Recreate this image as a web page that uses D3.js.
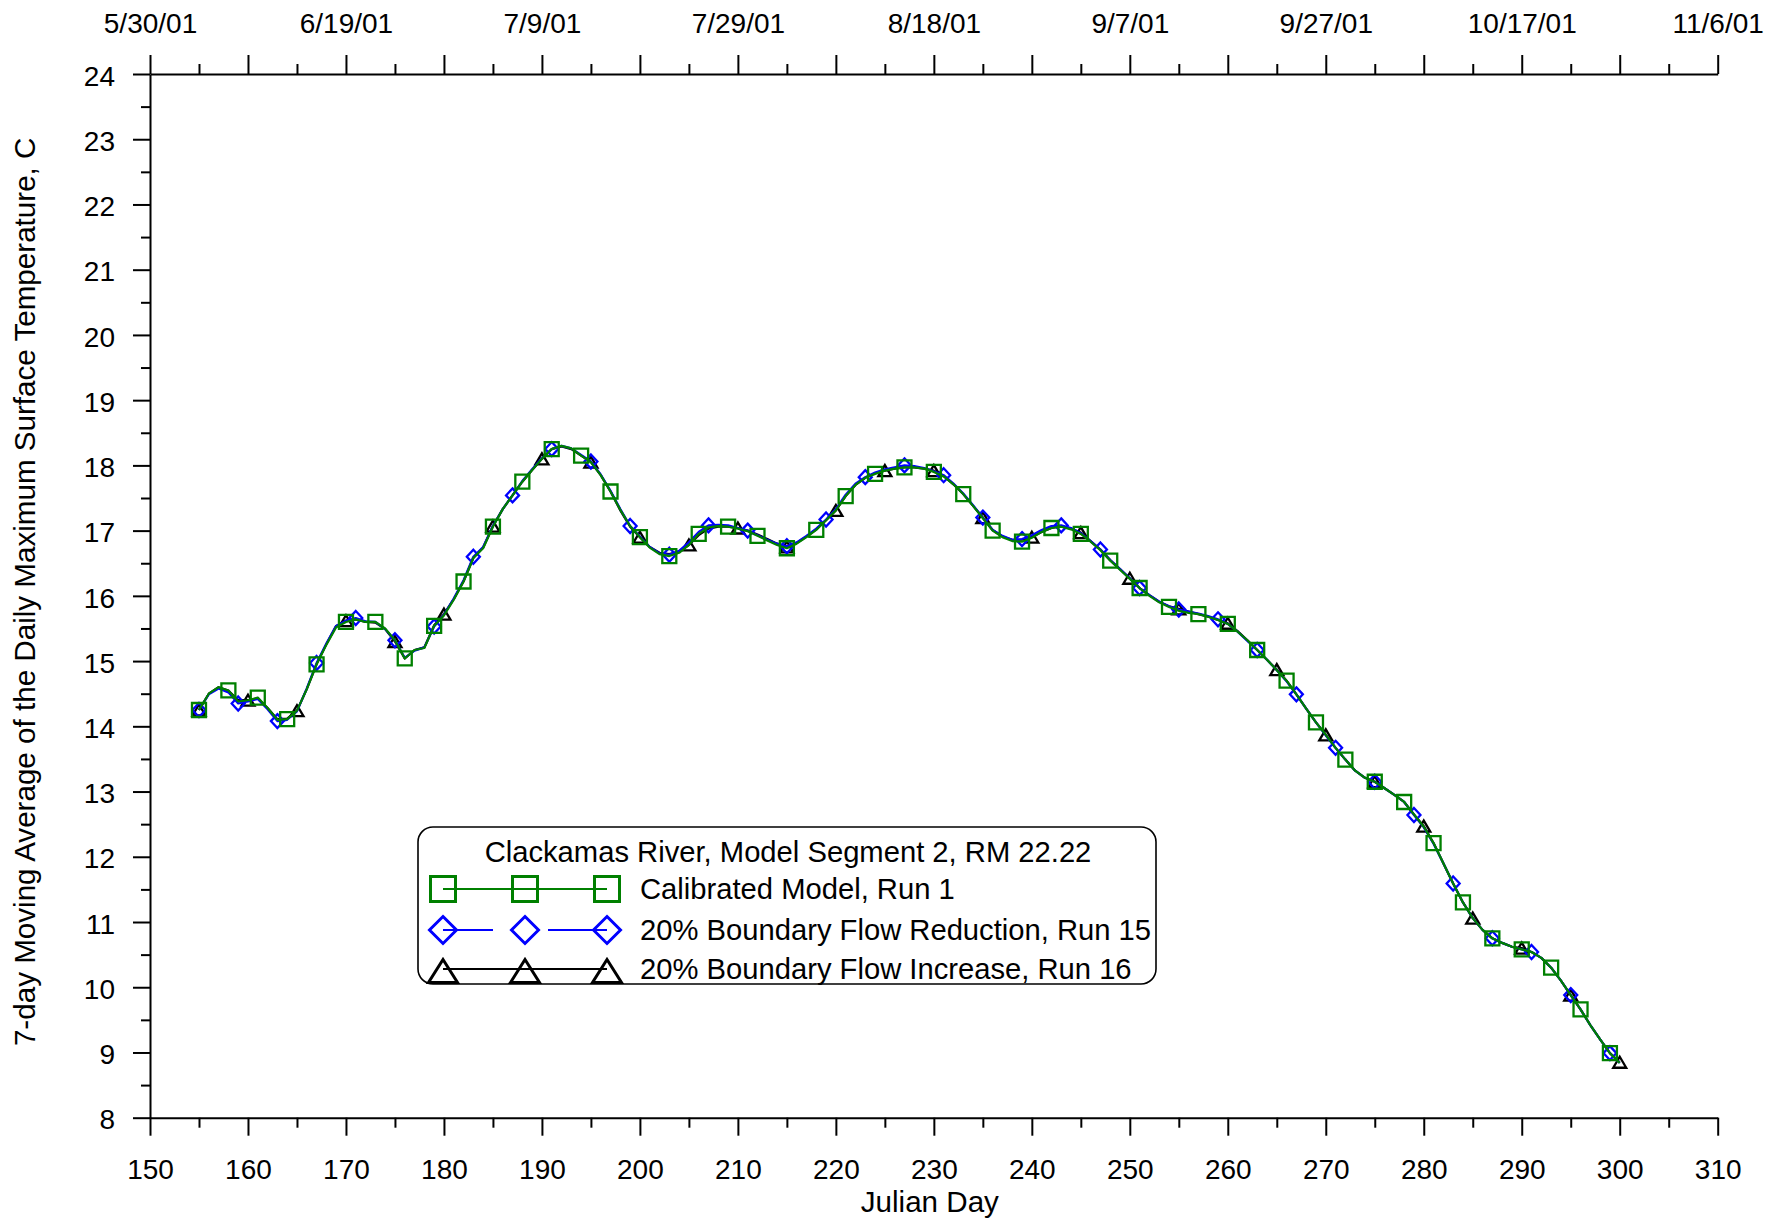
<!DOCTYPE html>
<html><head><meta charset="utf-8">
<script src="https://cdn.jsdelivr.net/npm/d3@7"></script>
<style>
body{margin:0;background:#fff}
svg{display:block}
text{font-family:"Liberation Sans",Arial,sans-serif;fill:#000}
</style>
</head><body><svg id="chart" width="1786" height="1225"></svg>
<script>
// ---------------- data ----------------
const julianDays = d3.range(155, 301); // day 155 .. 300

const calibratedRun1 = [
 14.25,14.50,14.60,14.55,14.38,14.40,14.44,14.28,14.10,14.11, // 155-164
 14.24,14.57,14.95,15.25,15.52,15.60,15.64,15.60,15.60,15.50, // 165-174
 15.32,15.04,15.17,15.20,15.54,15.70,15.94,16.22,16.58,16.73, // 175-184
 17.06,17.33,17.54,17.75,17.93,18.10,18.25,18.30,18.26,18.15, // 185-194
 18.05,17.85,17.60,17.32,17.07,16.90,16.74,16.64,16.61,16.66, // 195-204
 16.78,16.95,17.05,17.07,17.06,17.03,16.99,16.92,16.85,16.78, // 205-214
 16.73,16.80,16.90,17.01,17.16,17.31,17.53,17.70,17.81,17.87, // 215-224
 17.92,17.95,17.97,17.97,17.95,17.90,17.83,17.71,17.56,17.38, // 225-234
 17.19,17.00,16.90,16.84,16.83,16.89,16.98,17.04,17.06,17.02, // 235-244
 16.95,16.83,16.70,16.54,16.40,16.26,16.12,16.00,15.90,15.83, // 245-254
 15.77,15.74,15.72,15.68,15.63,15.57,15.45,15.32,15.17,15.02, // 255-264
 14.86,14.70,14.49,14.27,14.06,13.87,13.67,13.49,13.32,13.21, // 265-274
 13.15,13.05,12.95,12.84,12.65,12.46,12.21,11.90,11.59,11.30, // 275-284
 11.06,10.88,10.75,10.68,10.62,10.58,10.54,10.45,10.30,10.10, // 285-294
 9.88,9.66,9.42,9.20,8.99,8.84                                // 295-300
];

const flowReductionRun15 = [
 14.25,14.49,14.58,14.52,14.35,14.38,14.42,14.26,14.08,14.10, // 155-164
 14.23,14.58,14.97,15.27,15.54,15.62,15.66,15.61,15.60,15.49, // 165-174
 15.32,15.05,15.16,15.21,15.53,15.71,15.96,16.24,16.60,16.75, // 175-184
 17.07,17.33,17.54,17.76,17.94,18.11,18.25,18.30,18.26,18.16, // 185-194
 18.06,17.86,17.61,17.33,17.07,16.91,16.75,16.65,16.63,16.69, // 195-204
 16.82,16.98,17.08,17.09,17.08,17.04,17.00,16.93,16.86,16.80, // 205-214
 16.76,16.82,16.92,17.03,17.17,17.33,17.55,17.72,17.82,17.89, // 215-224
 17.94,17.97,18.00,17.99,17.96,17.91,17.85,17.72,17.57,17.39, // 225-234
 17.20,17.01,16.92,16.86,16.87,16.93,17.01,17.07,17.08,17.04, // 235-244
 16.96,16.84,16.71,16.55,16.41,16.27,16.12,16.01,15.91,15.84, // 245-254
 15.79,15.76,15.73,15.69,15.64,15.57,15.45,15.31,15.17,15.02, // 255-264
 14.86,14.69,14.49,14.27,14.06,13.86,13.67,13.49,13.32,13.21, // 265-274
 13.15,13.05,12.95,12.84,12.64,12.45,12.20,11.90,11.59,11.30, // 275-284
 11.06,10.88,10.75,10.68,10.62,10.58,10.54,10.45,10.30,10.10, // 285-294
 9.88,9.66,9.42,9.20,8.99,8.84                                // 295-300
];

const flowIncreaseRun16 = [
 14.25,14.50,14.60,14.55,14.40,14.40,14.43,14.28,14.11,14.12, // 155-164
 14.24,14.57,14.95,15.26,15.54,15.62,15.64,15.60,15.59,15.49, // 165-174
 15.30,15.04,15.17,15.21,15.55,15.72,15.95,16.22,16.58,16.74, // 175-184
 17.07,17.33,17.54,17.75,17.93,18.10,18.25,18.29,18.25,18.15, // 185-194
 18.05,17.85,17.60,17.31,17.06,16.90,16.75,16.66,16.64,16.68, // 195-204
 16.78,16.93,17.03,17.06,17.06,17.04,17.00,16.94,16.87,16.80, // 205-214
 16.75,16.81,16.91,17.02,17.16,17.31,17.53,17.70,17.81,17.88, // 215-224
 17.92,17.95,17.97,17.97,17.95,17.92,17.84,17.71,17.56,17.38, // 225-234
 17.20,17.01,16.91,16.86,16.86,16.90,16.98,17.04,17.07,17.03, // 235-244
 16.97,16.84,16.71,16.55,16.41,16.27,16.12,16.01,15.91,15.84, // 245-254
 15.80,15.76,15.72,15.68,15.63,15.58,15.46,15.32,15.17,15.02, // 255-264
 14.87,14.70,14.49,14.27,14.06,13.87,13.67,13.49,13.32,13.21, // 265-274
 13.15,13.05,12.95,12.84,12.65,12.47,12.21,11.90,11.59,11.30, // 275-284
 11.06,10.88,10.75,10.68,10.62,10.60,10.54,10.45,10.30,10.10, // 285-294
 9.88,9.66,9.42,9.20,8.99,8.85                                // 295-300
];

const xMajorTicks = [150,160,170,180,190,200,210,220,230,240,250,260,270,280,290,300,310];
const xMinorTicks = [155,165,175,185,195,205,215,225,235,245,255,265,275,285,295,305];
const topDateDays   = [150,170,190,210,230,250,270,290,310];
const topDateLabels = ["5/30/01","6/19/01","7/9/01","7/29/01","8/18/01","9/7/01","9/27/01","10/17/01","11/6/01"];
const yMajorTicks = [8,9,10,11,12,13,14,15,16,17,18,19,20,21,22,23,24];
const yMinorTicks = [8.5,9.5,10.5,11.5,12.5,13.5,14.5,15.5,16.5,17.5,18.5,19.5,20.5,21.5,22.5,23.5];

const legendTitle = "Clackamas River, Model Segment 2, RM 22.22";
const seriesNames = ["Calibrated Model, Run 1","20% Boundary Flow Reduction, Run 15","20% Boundary Flow Increase, Run 16"];
const xTitle = "Julian Day";
const yTitle = "7-day Moving Average of the Daily Maximum Surface Temperature, C";

// ---------------- chart ----------------
const svg = d3.select("#chart");
const x = d3.scaleLinear().domain([150,310]).range([150,1717.7]);
const y = d3.scaleLinear().domain([8,24]).range([1117.7,74]);
const FONT = "\"Liberation Sans\",Arial,sans-serif";
const TICK_FS = 28, TITLE_FS = 29.6, LEG_FS = 29.2;

function styleAxis(g, fs){
  g.attr("font-family", FONT).attr("font-size", fs);
  g.selectAll("path.domain").attr("stroke","#000").attr("stroke-width",2);
  g.selectAll(".tick line").attr("stroke","#000").attr("stroke-width",2);
  g.selectAll(".tick text").attr("fill","#000");
}

// bottom axis
svg.append("g").attr("transform",`translate(0,${y(8)})`)
  .call(d3.axisBottom(x).tickValues(xMinorTicks).tickSize(10).tickSizeOuter(0).tickFormat(""))
  .call(g=>{g.select(".domain").remove(); styleAxis(g,TICK_FS);});
svg.append("g").attr("transform",`translate(0,${y(8)})`)
  .call(d3.axisBottom(x).tickValues(xMajorTicks).tickSize(18).tickSizeOuter(0).tickPadding(23).tickFormat(d3.format("d")))
  .call(g=>styleAxis(g,TICK_FS));

// top axis
const topLabelOf = d => { const i = topDateDays.indexOf(d); return i>=0 ? topDateLabels[i] : ""; };
svg.append("g").attr("transform",`translate(0,${y(24)})`)
  .call(d3.axisTop(x).tickValues(xMinorTicks).tickSize(10).tickSizeOuter(0).tickFormat(""))
  .call(g=>{g.select(".domain").remove(); styleAxis(g,TICK_FS);});
svg.append("g").attr("transform",`translate(0,${y(24)})`)
  .call(d3.axisTop(x).tickValues(xMajorTicks).tickSize(19).tickSizeOuter(0).tickPadding(22).tickFormat(topLabelOf))
  .call(g=>styleAxis(g,TICK_FS));

// left axis
svg.append("g").attr("transform",`translate(${x(150)},0)`)
  .call(d3.axisLeft(y).tickValues(yMinorTicks).tickSize(9).tickSizeOuter(0).tickFormat(""))
  .call(g=>{g.select(".domain").remove(); styleAxis(g,TICK_FS);});
svg.append("g").attr("transform",`translate(${x(150)},0)`)
  .call(d3.axisLeft(y).tickValues(yMajorTicks).tickSize(17).tickSizeOuter(0).tickPadding(18).tickFormat(d3.format("d")))
  .call(g=>{styleAxis(g,TICK_FS); g.selectAll(".tick text").attr("dy","0.4em");});

// axis titles
svg.append("text").attr("x",(x(150)+x(310))/2 - 4).attr("y",1202).attr("dy","0.35em")
  .attr("text-anchor","middle").attr("font-size",TITLE_FS).text(xTitle);
svg.append("text").attr("transform",`translate(25,${(y(8)+y(24))/2 - 4}) rotate(-90)`).attr("dy","0.35em")
  .attr("text-anchor","middle").attr("font-size",TITLE_FS).text(yTitle);

// series
const series = [
  {vals: flowIncreaseRun16, color:"#000000", every:5, shape:"tri"},
  {vals: flowReductionRun15, color:"#0000FF", every:4, shape:"dia"},
  {vals: calibratedRun1, color:"#008000", every:3, shape:"sq"}
];
const line = d3.line().x((d,i)=>x(julianDays[i])).y(d=>y(d));

function shapePath(shape, s){
  if(shape==="sq"){ const h=s.w/2; return `M${-h},${-h}H${h}V${h}H${-h}Z`; }
  if(shape==="dia"){ const w=s.w/2,h=s.h/2; return `M0,${-h}L${w},0L0,${h}L${-w},0Z`; }
  const w=s.w/2,h=s.h/2; return `M${-w},${h}L${w},${h}L0,${-h}Z`;
}
const plotSize = {sq:{w:14,h:14}, dia:{w:13,h:14}, tri:{w:13,h:11}};

series.forEach(s=>{
  svg.append("path").datum(s.vals).attr("d",line).attr("fill","none")
    .attr("stroke",s.color).attr("stroke-width",2.2).attr("stroke-linejoin","round");
  const pts = s.vals.map((v,i)=>({d:julianDays[i],v:v,i:i})).filter(p=>p.i % s.every===0);
  svg.append("g").selectAll("path").data(pts).join("path")
    .attr("transform",p=>`translate(${x(p.d)},${y(p.v)})`)
    .attr("d",shapePath(s.shape,plotSize[s.shape]))
    .attr("fill","none").attr("stroke",s.color).attr("stroke-width",2.3);
});

// legend
const lg = svg.append("g");
lg.append("rect").attr("x",418).attr("y",827).attr("width",738).attr("height",157).attr("rx",15).attr("ry",15)
  .attr("fill","#fff").attr("stroke","#000").attr("stroke-width",1.6);
lg.append("text").attr("x",788).attr("y",852).attr("dy","0.35em").attr("text-anchor","middle").attr("font-size",LEG_FS).text(legendTitle);
const symX = [443,525,607];
const rowY = [889,930,969];
const legSize = {sq:{w:25,h:25}, dia:{w:27,h:27}, tri:{w:29,h:23}};
const legOrder = [series[2],series[1],series[0]];
legOrder.forEach((s,r)=>{
  const yy = rowY[r];
  if(s.shape==="dia"){
    lg.append("line").attr("x1",symX[0]).attr("x2",493).attr("y1",yy).attr("y2",yy).attr("stroke",s.color).attr("stroke-width",2);
    lg.append("line").attr("x1",548).attr("x2",symX[2]).attr("y1",yy).attr("y2",yy).attr("stroke",s.color).attr("stroke-width",2);
  } else {
    lg.append("line").attr("x1",symX[0]).attr("x2",symX[2]).attr("y1",yy).attr("y2",yy).attr("stroke",s.color).attr("stroke-width",2);
  }
  symX.forEach(sx=>{
    lg.append("path").attr("transform",`translate(${sx},${s.shape==="tri"?yy+2:yy})`)
      .attr("d",shapePath(s.shape,legSize[s.shape])).attr("fill","none")
      .attr("stroke",s.color).attr("stroke-width",3);
  });
  lg.append("text").attr("x",640).attr("y",yy).attr("dy","0.35em").attr("font-size",LEG_FS).text(seriesNames[r]);
});
</script>
</body></html>
